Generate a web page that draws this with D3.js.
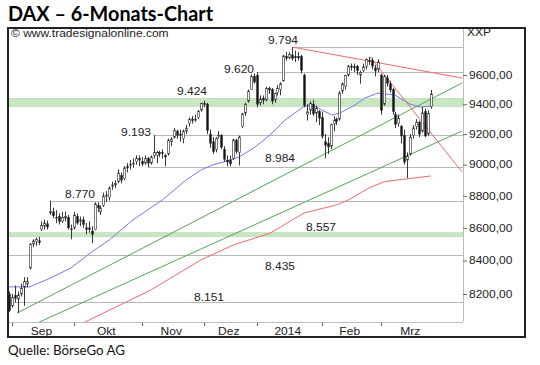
<!DOCTYPE html>
<html>
<head>
<meta charset="utf-8">
<script src="https://cdn.jsdelivr.net/npm/d3@7"></script>
<style>
  body { margin: 0; background: #fff; }
  text { font-family: 'Liberation Sans', Arial, sans-serif; fill: #222; }
</style>
</head>
<body>
<div class="canvas"></div>
<script>
// daily bars, 30 Aug 2013 (index 0) to 26 Mar 2014 (index 143)
const opens = [
  8200, 8130, 8190, 8170, 8200, 8240, 8260, 8355, 8500, 8515, 8520, 8590, 8610, 8625, 8700, 8700, 8660, 8670, 8640, 8660, 8665, 8590,
  8600, 8670, 8640, 8650, 8600, 8600, 8580, 8590, 8740, 8700, 8740, 8800, 8790, 8860, 8870, 8890, 8930, 8910, 8980, 9000, 9000, 9020, 9040,
  9020, 9010, 9040, 9010, 9060, 9060, 9080, 9080, 9060, 9070, 9150, 9180, 9220, 9200, 9170, 9220, 9270, 9300, 9290, 9310, 9360,
  9405, 9400, 9200, 9150, 9100, 9190, 9190, 9100, 9030, 9030, 9040, 9160, 9080, 9250, 9340, 9420, 9500, 9590,
  9598, 9410, 9440, 9430, 9510, 9500, 9430, 9480, 9500, 9560, 9730, 9720, 9740, 9720, 9730, 9730, 9600, 9330, 9360, 9400, 9340, 9350,
  9310, 9150, 9140, 9120, 9270, 9300, 9300, 9490, 9520, 9600, 9660, 9650, 9660, 9600, 9630, 9660, 9700, 9700, 9650, 9640,
  9600, 9400, 9580, 9540, 9500, 9330, 9270, 9250, 9190, 9030, 9070, 9190, 9250, 9280, 9220, 9350, 9200, 9385,
]
const highs = [
  8215, 8200, 8250, 8215, 8260, 8300, 8300, 8505, 8530, 8540, 8545, 8640, 8650, 8645, 8770, 8725, 8710, 8690, 8700, 8700, 8680, 8620,
  8700, 8690, 8670, 8670, 8630, 8640, 8610, 8760, 8760, 8740, 8820, 8830, 8860, 8890, 8900, 8970, 8950, 8990, 9010, 9030, 9040, 9060, 9060,
  9050, 9060, 9050, 9060, 9193, 9090, 9090, 9100, 9070, 9170, 9180, 9240, 9230, 9230, 9230, 9260, 9310, 9320, 9330, 9360, 9410,
  9424, 9410, 9230, 9180, 9180, 9220, 9200, 9120, 9060, 9060, 9170, 9170, 9190, 9340, 9410, 9500, 9605, 9610,
  9620, 9460, 9460, 9520, 9520, 9510, 9480, 9530, 9550, 9740, 9760, 9760, 9794, 9770, 9760, 9740, 9610, 9400, 9420, 9430, 9390, 9360,
  9350, 9200, 9180, 9270, 9320, 9310, 9490, 9550, 9600, 9670, 9680, 9680, 9670, 9630, 9680, 9715, 9725, 9720, 9670, 9710,
  9610, 9600, 9600, 9560, 9510, 9350, 9330, 9260, 9230, 9080, 9200, 9260, 9300, 9290, 9380, 9370, 9360, 9497,
]
const lows = [
  8095, 8120, 8150, 8090, 8185, 8130, 8240, 8345, 8480, 8490, 8495, 8580, 8590, 8590, 8680, 8660, 8630, 8620, 8630, 8640, 8590, 8530,
  8590, 8620, 8610, 8600, 8560, 8570, 8505, 8585, 8700, 8680, 8730, 8760, 8770, 8840, 8850, 8880, 8880, 8900, 8950, 8970, 8980, 9000, 8990,
  8990, 9000, 8984, 9000, 9040, 9010, 9050, 9040, 8990, 9060, 9120, 9170, 9170, 9150, 9140, 9200, 9250, 9270, 9280, 9300, 9350,
  9380, 9200, 9110, 9070, 9080, 9170, 9100, 9020, 8990, 8990, 9030, 9070, 8995, 9240, 9320, 9410, 9500, 9540,
  9380, 9390, 9400, 9420, 9470, 9400, 9410, 9460, 9460, 9555, 9700, 9710, 9700, 9690, 9700, 9610, 9380, 9290, 9330, 9320, 9280, 9260,
  9170, 9040, 9070, 9100, 9220, 9260, 9290, 9470, 9500, 9590, 9630, 9620, 9600, 9540, 9620, 9640, 9670, 9640, 9590, 9620,
  9330, 9390, 9520, 9480, 9330, 9240, 9250, 9140, 9000, 8913, 9060, 9170, 9230, 9180, 9210, 9180, 9190, 9370,
]
const closes = [
  8103, 8180, 8175, 8195, 8234, 8275, 8276, 8500, 8520, 8530, 8510, 8615, 8630, 8605, 8695, 8675, 8665, 8640, 8665, 8672, 8600, 8594,
  8680, 8630, 8650, 8620, 8590, 8590, 8560, 8750, 8725, 8725, 8800, 8805, 8850, 8870, 8880, 8945, 8900, 8980, 8990, 9000, 9010, 9040, 9030,
  9005, 9040, 9010, 9050, 9080, 9080, 9070, 9075, 9050, 9160, 9168, 9225, 9193, 9195, 9220, 9240, 9300, 9290, 9300, 9350, 9405,
  9400, 9225, 9140, 9085, 9172, 9190, 9114, 9035, 9017, 9006, 9163, 9085, 9182, 9336, 9400, 9489, 9589, 9552,
  9400, 9435, 9428, 9506, 9497, 9421, 9473, 9510, 9540, 9733, 9717, 9742, 9715, 9730, 9720, 9631, 9392, 9349, 9406, 9336, 9373, 9306,
  9186, 9127, 9116, 9265, 9290, 9285, 9478, 9540, 9596, 9662, 9657, 9659, 9630, 9618, 9656, 9708, 9699, 9661, 9629, 9692,
  9358, 9589, 9542, 9498, 9350, 9265, 9307, 9188, 9017, 9056, 9180, 9242, 9277, 9200, 9342, 9188, 9338, 9470,
]

// month axis: bar index of each month's first trading day (last entry = 1 Apr)
const monthLabels = ['Sep', 'Okt', 'Nov', 'Dez', '2014', 'Feb', 'Mrz']
const monthStarts = [1, 22, 45, 66, 84, 106, 126, 147]

// right axis
const yTicks = [8200, 8400, 8600, 8800, 9000, 9200, 9400, 9600]

// moving averages as [bar index, value]
const maBlue = [
  [0, 8242], [7, 8242], [14, 8294], [21, 8355], [28, 8452], [34, 8525], [42, 8649], [52, 8774],
  [60, 8901], [65, 8965], [69, 8998], [75, 9030], [78, 9050], [83, 9109], [88.5, 9194], [93.6, 9294],
  [99.7, 9381], [102.7, 9401], [106, 9361], [109.5, 9327], [112.2, 9341], [117.3, 9395], [120.7, 9443],
  [125, 9476], [130.8, 9463], [135.9, 9401], [139.3, 9381], [143, 9388],
]
const maRed = [
  [22, 8010], [25, 8030], [34, 8105], [48, 8223], [65, 8403], [76, 8494], [88.5, 8567], [100, 8692],
  [111, 8743], [115, 8774], [122, 8850], [127, 8889], [131.5, 8901], [143, 8927],
]

// trend lines as [start, end] with [bar index, value]
const greenTrends = [
  [[2.7, 8088], [153.6, 9545]],
  [[9.5, 8030], [153.6, 9221]],
]
const redTrends = [
  [[96.3, 9794], [153.6, 9579]],
  [[122.4, 9725], [153.6, 8953]],
]

// horizontal marks: value and bar index where the line starts
const levels = [9794, 9620, 9424, 9193, 8984, 8770, 8557, 8435, 8151]
const levelStarts = [96, 84, 66, 49, 47, 14, -1, -1, -1]
const zones = [[9385, 9440], [8545, 8570]]

// label placement (pixels): left x, baseline offset from the line
const levelLabelPos = [
  [268, -3.5], [224, 1], [177, -5.4], [121, 1], [265, -5], [65, -2.6], [306, -4], [265, 15.3], [194, -1.4],
]

const dims = {
  frame: { left: 8, top: 28, right: 525, bottom: 337 },
  plot: { left: 8, top: 28, right: 463, bottom: 322 },
}

const de = d3.formatLocale({ decimal: ',', thousands: '.', grouping: [3], currency: ['', ' €'] })
const levelFormat = de.format(',d')
const tickFormat = de.format('.2f')

const svg = d3
  .select('.canvas')
  .append('svg')
  .attr('width', 540)
  .attr('height', 365)

// stretch chart text a bit wider, like the source picture
const stretch = (sel, k) =>
  sel.each(function () {
    const w = this.getComputedTextLength()
    d3.select(this).attr('textLength', w * k).attr('lengthAdjust', 'spacingAndGlyphs')
  })

// scales
const x = d3.scaleLinear().domain([0, 143]).range([9, 430.85])
const y = d3.scaleLog().domain([8200, 9600]).range([294, 75])

svg
  .append('clipPath')
  .attr('id', 'plot-clip')
  .append('rect')
  .attr('x', dims.plot.left)
  .attr('y', dims.plot.top)
  .attr('width', dims.plot.right - dims.plot.left)
  .attr('height', dims.plot.bottom - dims.plot.top)

const plot = svg.append('g').attr('clip-path', 'url(#plot-clip)')

// green zones
plot
  .selectAll('rect.zone')
  .data(zones)
  .join('rect')
  .attr('class', 'zone')
  .attr('x', x(-1))
  .attr('width', dims.plot.right - x(-1))
  .attr('y', (d) => y(d[1]))
  .attr('height', (d) => y(d[0]) - y(d[1]))
  .attr('fill', '#c9e6c2')
  .attr('stroke', '#b3d9ab')
  .attr('stroke-width', 0.6)

// grey level lines
plot
  .selectAll('line.level')
  .data(levels.filter((d) => !zones.some((z) => d >= z[0] && d <= z[1])))
  .join('line')
  .attr('class', 'level')
  .attr('x1', (d) => x(Math.max(levelStarts[levels.indexOf(d)], -1)))
  .attr('x2', dims.plot.right)
  .attr('y1', (d) => Math.round(y(d)) + 0.5)
  .attr('y2', (d) => Math.round(y(d)) + 0.5)
  .attr('stroke', '#b8b8b8')
  .attr('stroke-width', 1)

// trend lines and averages
const line = d3
  .line()
  .x((d) => x(d[0]))
  .y((d) => y(d[1]))

plot
  .selectAll('path.green')
  .data(greenTrends)
  .join('path')
  .attr('fill', 'none')
  .attr('stroke', '#55a555')
  .attr('stroke-width', 1)
  .attr('d', line)

plot
  .append('path')
  .datum(maBlue)
  .attr('fill', 'none')
  .attr('stroke', '#7676ee')
  .attr('stroke-width', 1)
  .attr('d', line)

plot
  .append('path')
  .datum(maRed)
  .attr('fill', 'none')
  .attr('stroke', '#f06a6a')
  .attr('stroke-width', 1)
  .attr('d', line)

plot
  .selectAll('path.red')
  .data(redTrends)
  .join('path')
  .attr('fill', 'none')
  .attr('stroke', '#f06a6a')
  .attr('stroke-width', 1)
  .attr('d', line)

// candles
const bars = d3.range(opens.length)
const candles = plot.append('g')

candles
  .selectAll('line')
  .data(bars)
  .join('line')
  .attr('x1', (i) => Math.round(x(i)) + 0.5)
  .attr('x2', (i) => Math.round(x(i)) + 0.5)
  .attr('y1', (i) => y(highs[i]))
  .attr('y2', (i) => y(lows[i]))
  .attr('stroke', '#222')
  .attr('stroke-width', 0.9)

candles
  .selectAll('rect')
  .data(bars)
  .join('rect')
  .attr('x', (i) => Math.round(x(i)) - 0.3)
  .attr('width', 1.6)
  .attr('y', (i) => y(Math.max(opens[i], closes[i])))
  .attr('height', (i) => Math.max(1, y(Math.min(opens[i], closes[i])) - y(Math.max(opens[i], closes[i]))))
  .attr('fill', (i) => (closes[i] >= opens[i] ? '#fff' : '#111'))
  .attr('stroke', '#222')
  .attr('stroke-width', 0.6)

// level labels
svg
  .selectAll('text.level')
  .data(levels)
  .join('text')
  .attr('class', 'level')
  .attr('x', (d, i) => levelLabelPos[i][0])
  .attr('y', (d, i) => y(d) + levelLabelPos[i][1])
  .attr('font-size', 10)
  .text((d) => levelFormat(d))
  .call(stretch, 1.2)

// plot border lines
svg
  .append('line')
  .attr('x1', dims.plot.left)
  .attr('x2', dims.plot.right)
  .attr('y1', dims.plot.bottom + 0.5)
  .attr('y2', dims.plot.bottom + 0.5)
  .attr('stroke', '#bdbdbd')
svg
  .append('line')
  .attr('x1', dims.plot.right + 0.5)
  .attr('x2', dims.plot.right + 0.5)
  .attr('y1', dims.plot.top)
  .attr('y2', dims.plot.bottom)
  .attr('stroke', '#bdbdbd')

// right axis
const yAxis = d3.axisRight(y).tickValues(yTicks).tickSize(4).tickPadding(2).tickFormat(tickFormat)
const yAxisGroup = svg
  .append('g')
  .attr('transform', `translate(${dims.plot.right}, 0)`)
  .call(yAxis)
yAxisGroup.select('.domain').remove()
yAxisGroup.selectAll('line').attr('stroke', '#666')
yAxisGroup
  .selectAll('text')
  .attr('font-size', 10)
  .attr('font-family', null)
  .attr('fill', '#222')
  .call(stretch, 1.2)

// month axis
const xAxisGroup = svg.append('g')
xAxisGroup
  .selectAll('line')
  .data(monthStarts.slice(0, -1))
  .join('line')
  .attr('x1', (d) => Math.round(x(d)) + 0.5)
  .attr('x2', (d) => Math.round(x(d)) + 0.5)
  .attr('y1', dims.plot.bottom + 1)
  .attr('y2', dims.plot.bottom + 4)
  .attr('stroke', '#555')
xAxisGroup
  .selectAll('text')
  .data(monthLabels)
  .join('text')
  .attr('x', (d, i) => x((monthStarts[i] + monthStarts[i + 1] - 1) / 2))
  .attr('y', 334.5)
  .attr('font-size', 10)
  .attr('text-anchor', 'middle')
  .text((d) => d)
  .call(stretch, 1.2)

// outer frame
svg
  .append('rect')
  .attr('x', dims.frame.left)
  .attr('y', dims.frame.top)
  .attr('width', dims.frame.right - dims.frame.left)
  .attr('height', dims.frame.bottom - dims.frame.top)
  .attr('fill', 'none')
  .attr('stroke', '#222')
  .attr('stroke-width', 2)

// texts
svg
  .append('text')
  .attr('x', 11)
  .attr('y', 37)
  .attr('font-size', 10)
  .text('© www.tradesignalonline.com')
  .call(stretch, 1.2)

svg
  .append('text')
  .attr('x', 467)
  .attr('y', 36)
  .attr('font-size', 10)
  .text('XXP')
  .call(stretch, 1.2)

svg
  .append('text')
  .attr('x', 8)
  .attr('y', 21)
  .attr('font-size', 20)
  .attr('font-weight', 'bold')
  .style('font-family', 'Lato, sans-serif')
  .style('fill', '#000')
  .attr('textLength', 205)
  .attr('lengthAdjust', 'spacingAndGlyphs')
  .text('DAX – 6-Monats-Chart')

svg
  .append('text')
  .attr('x', 8)
  .attr('y', 355)
  .attr('font-size', 14)
  .style('font-family', 'Lato, sans-serif')
  .style('fill', '#111')
  .attr('textLength', 117)
  .attr('lengthAdjust', 'spacingAndGlyphs')
  .text('Quelle: BörseGo AG')
</script>
</body>
</html>
